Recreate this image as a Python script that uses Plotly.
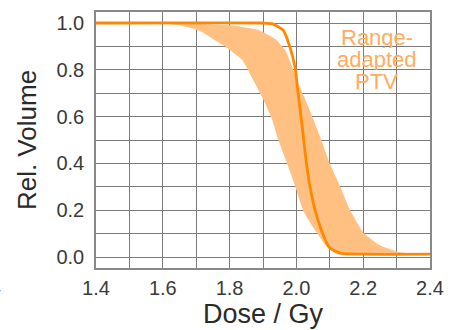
import plotly.graph_objects as go

# Nominal dose-volume histogram (solid line)
line_dose = [1.40, 1.90, 1.927, 1.96, 1.98, 1.996, 2.005, 2.017, 2.03, 2.04,
             2.056, 2.077, 2.10, 2.13, 2.20, 2.40]
line_vol = [1.0, 1.0, 0.997, 0.97, 0.90, 0.81, 0.70, 0.56, 0.40, 0.305,
            0.20, 0.106, 0.038, 0.017, 0.012, 0.012]

# Upper (right) edge of the robustness band
upper_dose = [1.40, 1.60, 1.70, 1.80, 1.885, 1.936, 1.966, 1.987, 2.005, 2.026,
              2.047, 2.07, 2.10, 2.13, 2.16, 2.20, 2.25, 2.31, 2.40]
upper_vol = [1.0, 1.0, 0.997, 0.99, 0.97, 0.932, 0.886, 0.814, 0.742, 0.674,
             0.602, 0.517, 0.40, 0.305, 0.203, 0.106, 0.05, 0.02, 0.01]

# Lower (left) edge of the robustness band
lower_dose = [1.40, 1.59, 1.65, 1.71, 1.786, 1.837, 1.876, 1.906, 1.927, 1.945,
              1.972, 1.996, 2.02, 2.056, 2.092, 2.12, 2.20, 2.40]
lower_vol = [1.0, 1.0, 0.99, 0.966, 0.90, 0.843, 0.742, 0.657, 0.589, 0.504,
             0.40, 0.305, 0.20, 0.114, 0.042, 0.018, 0.012, 0.01]

# Axis ticks: labelled every 0.2, grid every 0.1
x_range = [1.4, 2.4]
y_range = [-0.047, 1.047]
tick_step = 0.2
grid_step = 0.1
label_lines = ["Range-", "adapted", "PTV"]

LINE = "rgb(255,136,0)"
BAND = "rgb(255,192,130)"
LABEL = "rgb(255,172,95)"
FONT = "Liberation Sans, Arial, Helvetica, sans-serif"
GRID = "#7c7c7c"

fig = go.Figure()

# Band polygon: upper edge forward, lower edge back
fig.add_trace(go.Scatter(
    x=upper_dose + lower_dose[::-1],
    y=upper_vol + lower_vol[::-1],
    fill="toself", fillcolor=BAND, mode="none",
    line=dict(shape="spline", smoothing=0.5),
    hoverinfo="skip", showlegend=False,
))

fig.add_trace(go.Scatter(
    x=line_dose, y=line_vol, mode="lines",
    line=dict(color=LINE, width=2.8, shape="spline", smoothing=0.5),
    showlegend=False,
))

# Three-line label with tight spacing
for i, txt in enumerate(label_lines):
    fig.add_annotation(
        x=2.24, y=0.94 - 0.096 * i, xref="x", yref="y",
        text=txt, showarrow=False, height=21,
        font=dict(family=FONT, size=22, color=LABEL),
    )

# Cut-off tick label from the neighbouring panel
fig.add_annotation(
    x=-0.278, y=-0.074, xref="paper", yref="paper",
    xanchor="right", yanchor="middle",
    text="1.4", showarrow=False,
    font=dict(family=FONT, size=20, color="#444"),
)

axis_common = dict(
    showline=True, linecolor="#888888", linewidth=1.5, mirror=True,
    showgrid=True, gridcolor=GRID, gridwidth=1.3,
    ticks="", zeroline=False,
    tickmode="linear", dtick=tick_step, tickformat=".1f",
    tickfont=dict(family=FONT, size=20, color="#3a3a3a"),
)

fig.update_xaxes(
    range=x_range, tick0=x_range[0],
    minor=dict(dtick=grid_step, tick0=x_range[0], showgrid=True,
               gridcolor=GRID, gridwidth=1.3, ticks=""),
    ticklabelstandoff=1,
    title=dict(text="Dose / Gy", font=dict(family=FONT, size=27, color="#2a2a2a"),
               standoff=0),
    **axis_common,
)
fig.update_yaxes(
    range=y_range, tick0=0.0,
    minor=dict(dtick=grid_step, tick0=0.0, showgrid=True,
               gridcolor=GRID, gridwidth=1.3, ticks=""),
    ticklabelstandoff=6,
    title=dict(text="Rel. Volume", font=dict(family=FONT, size=26, color="#2a2a2a"),
               standoff=12),
    **axis_common,
)

fig.update_layout(
    width=458, height=330,
    margin=dict(l=96, r=28, t=10, b=62),
    plot_bgcolor="white", paper_bgcolor="white",
    font=dict(family=FONT),
)

fig.write_html("out.html")
